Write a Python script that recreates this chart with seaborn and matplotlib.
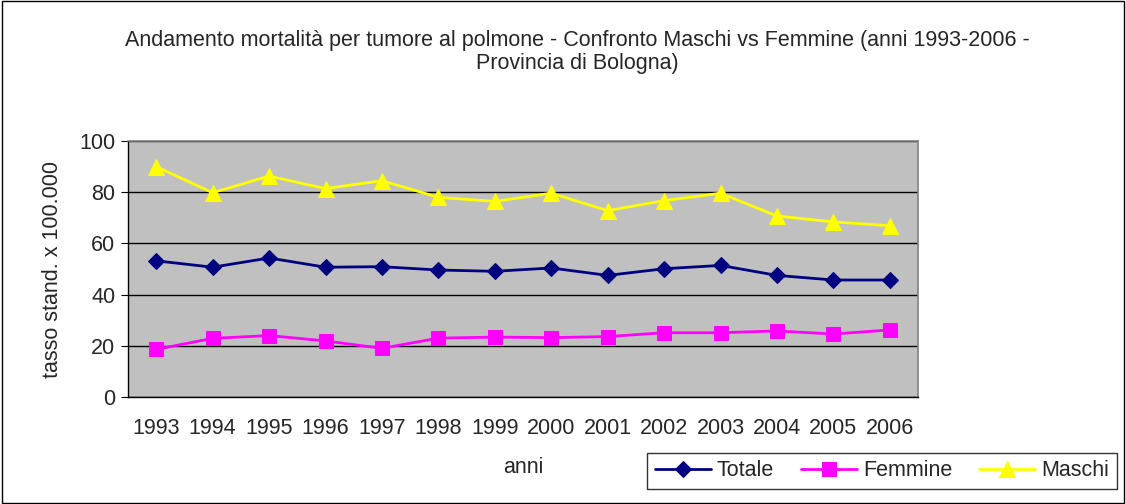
import pandas as pd
import matplotlib.pyplot as plt
import seaborn as sns
from matplotlib.patches import Rectangle

# Data
anni = ["1993", "1994", "1995", "1996", "1997", "1998", "1999",
        "2000", "2001", "2002", "2003", "2004", "2005", "2006"]
totale = [53.2, 50.7, 54.3, 50.7, 50.9, 49.6, 49.1, 50.4, 47.5, 50.1, 51.4, 47.5, 45.7, 45.7]
femmine = [18.6, 22.9, 24.0, 21.9, 19.0, 23.0, 23.4, 23.2, 23.6, 25.1, 25.1, 25.8, 24.6, 26.2]
maschi = [90.0, 79.8, 86.3, 81.4, 84.5, 78.0, 76.4, 79.6, 72.8, 76.7, 79.6, 70.7, 68.4, 66.9]

series = {"Totale": totale, "Femmine": femmine, "Maschi": maschi}
colors = {"Totale": "#000080", "Femmine": "#FF00FF", "Maschi": "#FFFF00"}
markers = {"Totale": "D", "Femmine": "s", "Maschi": "^"}
msizes = {"Totale": 8, "Femmine": 10, "Maschi": 11}

sns.set_style("white")
plt.rcParams["font.family"] = ["Liberation Sans", "DejaVu Sans"]
fs = 15.5

fig = plt.figure(figsize=(11.26, 5.04), dpi=100)
ax = fig.add_axes([128 / 1126, 1 - 397 / 504, 790 / 1126, 256 / 504])
ax.set_facecolor("#C0C0C0")

x = list(range(len(anni)))
for name, vals in series.items():
    df = pd.DataFrame({"x": x, "y": vals})
    sns.lineplot(data=df, x="x", y="y", ax=ax, color=colors[name], marker=markers[name],
                 markersize=msizes[name], markeredgecolor=colors[name], linewidth=2,
                 label=name, zorder=3)

ax.set_ylim(0, 100)
ax.set_yticks([0, 20, 40, 60, 80, 100])
ax.set_xlim(-0.5, len(anni) - 0.5)
ax.set_xticks([i - 0.5 for i in range(len(anni) + 1)])
ax.set_xticklabels([])
ax.set_xticks(x, minor=True)
ax.set_xticklabels(anni, minor=True)
ax.tick_params(axis="x", which="major", direction="out", length=5, color="black")
ax.tick_params(axis="x", which="minor", length=0, pad=15, labelsize=fs)
ax.tick_params(axis="y", direction="out", length=5, color="black", pad=4, labelsize=fs, left=True)
ax.grid(axis="y", color="black", linewidth=1)
ax.set_axisbelow(True)

for s in ["top", "right"]:
    ax.spines[s].set_color("#808080")
    ax.spines[s].set_linewidth(1.2)
for s in ["left", "bottom"]:
    ax.spines[s].set_color("black")
    ax.spines[s].set_linewidth(1)

ax.set_xlabel("anni", fontsize=fs)
ax.set_ylabel("tasso stand. x 100.000", fontsize=fs)
ax.xaxis.set_label_coords(0.5, -0.235)
ax.yaxis.set_label_coords(-0.082, 0.5)

ax.get_legend().remove()
handles, labels = ax.get_legend_handles_labels()
fig.legend(handles, labels, loc="center", bbox_to_anchor=(882 / 1126, 1 - 471 / 504),
           ncol=3, frameon=True, fancybox=False, edgecolor="black", fontsize=fs,
           handlelength=2.6, handletextpad=0.28, columnspacing=1.25, borderpad=0.35)
fig.legends[0].get_frame().set_linewidth(1)

fig.text(577 / 1126, 1 - 52 / 504,
         "Andamento mortalità per tumore al polmone - Confronto Maschi vs Femmine (anni 1993-2006 -\nProvincia di Bologna)",
         ha="center", va="center", fontsize=fs, linespacing=1.15)

fig.add_artist(Rectangle((0.0015, 0.002), 0.997, 0.996, transform=fig.transFigure,
                         fill=False, edgecolor="black", linewidth=1))

plt.savefig("out.png", dpi=100)
plt.close()
